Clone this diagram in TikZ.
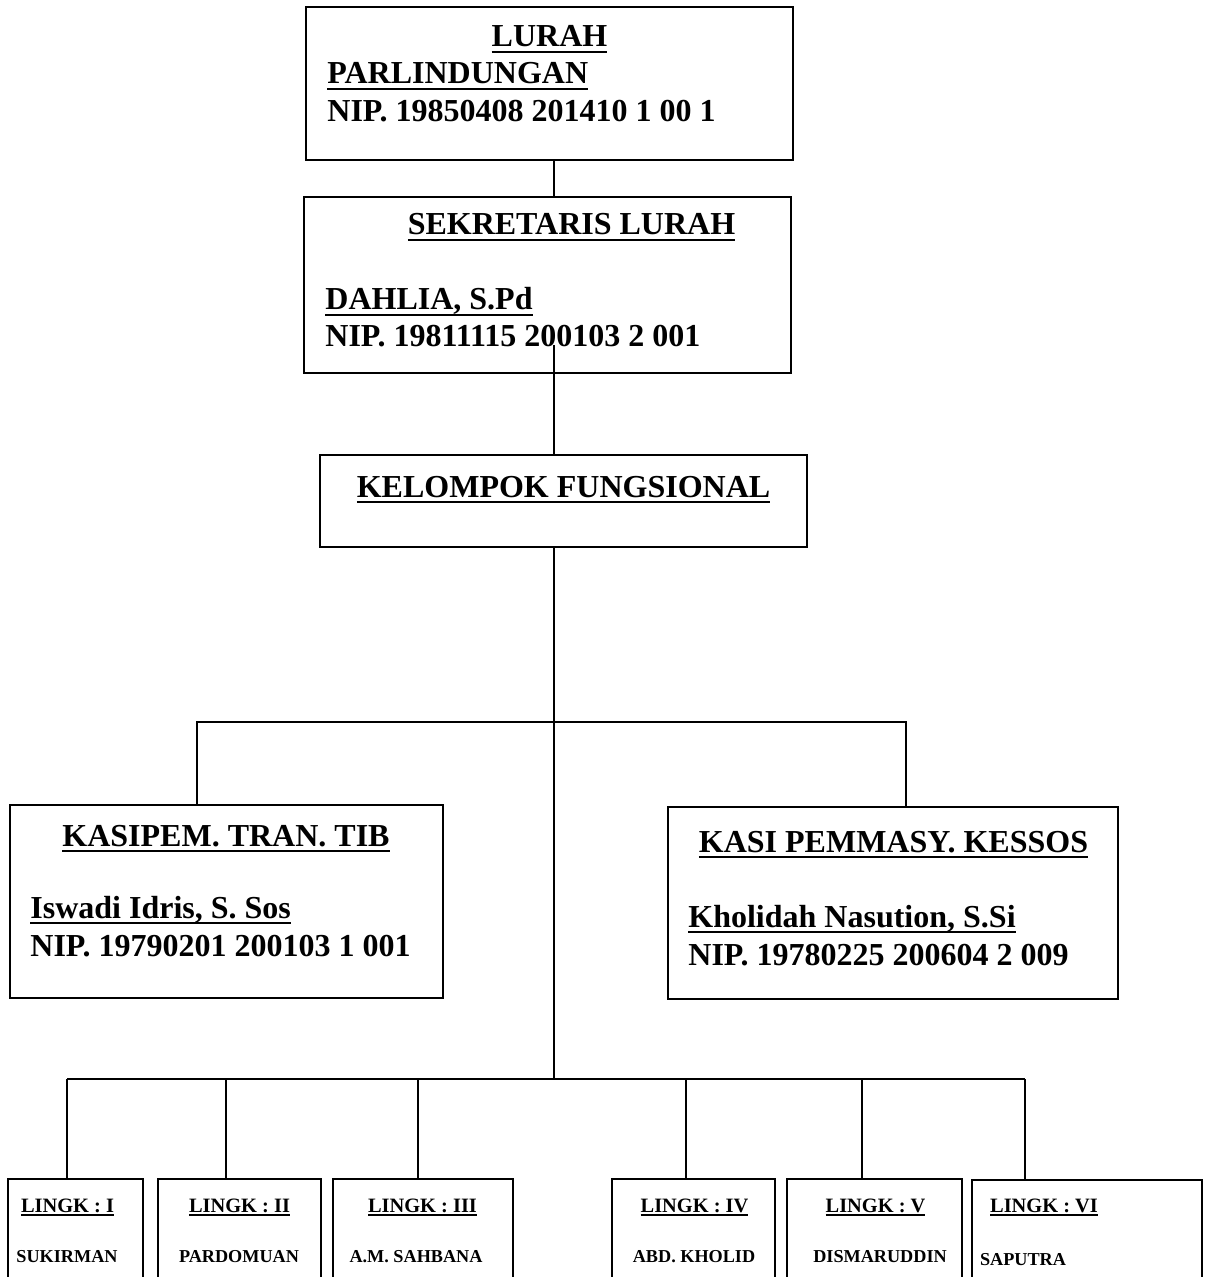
\documentclass[tikz,border=0pt]{standalone}
\usepackage{fontspec}
\setmainfont{Liberation Serif}
\usetikzlibrary{fit}

% underline with a thicker rule
\newcommand{\undl}[1]{\setbox0\hbox{#1}\rlap{\rule[-0.2em]{\wd0}{0.09em}}\box0}

\tikzset{
	box/.style={draw, line width=1pt, inner sep=0pt},
	bigtext/.style={font=\fontsize{16}{19}\selectfont\bfseries, inner sep=0pt},
	headtext/.style={font=\fontsize{10.2}{12}\selectfont\bfseries, inner sep=0pt},
	nametext/.style={font=\fontsize{9.1}{11}\selectfont\bfseries, inner sep=0pt},
	link/.style={line width=1pt}
}

\begin{document}
\begin{tikzpicture}[x=0.5pt,y=-0.5pt]
	\path[use as bounding box, clip] (0,0) rectangle (1210,1277);

	% boxes
	\node[box, fit={(306,7) (793,160)}] (lurah) {};
	\node[box, fit={(304,197) (791,373)}] (sekre) {};
	\node[box, fit={(320,455) (807,547)}] (fungsi) {};
	\node[box, fit={(10,805) (443,998)}] (kasipem) {};
	\node[box, fit={(668,807) (1118,999)}] (kasi) {};
	\node[box, fit={(8,1179) (143,1300)}] (lingk1) {};
	\node[box, fit={(158,1179) (321,1300)}] (lingk2) {};
	\node[box, fit={(333,1179) (513,1300)}] (lingk3) {};
	\node[box, fit={(612,1179) (775,1300)}] (lingk4) {};
	\node[box, fit={(787,1179) (962,1300)}] (lingk5) {};
	\node[box, fit={(972,1180) (1202,1300)}] (lingk6) {};

	% texts
	\node[bigtext, anchor=base] (lurahjab) at (549.5,47) {\undl{LURAH}};
	\node[bigtext, anchor=base west] (lurahnama) at (327,84) {\undl{PARLINDUNGAN}};
	\node[bigtext, anchor=base west] (lurahnip) at (327,122) {NIP. 19850408 201410 1 00 1};

	\node[bigtext, anchor=base] (sekrejab) at (571.5,235) {\undl{SEKRETARIS LURAH}};
	\node[bigtext, anchor=base west] (sekrenama) at (325,310) {\undl{DAHLIA, S.Pd}};
	\node[bigtext, anchor=base west] (sekrenip) at (325,347) {NIP. 19811115 200103 2 001};

	\node[bigtext, anchor=base] (fungsijab) at (563.5,497) {\undl{KELOMPOK FUNGSIONAL}};

	\node[bigtext, anchor=base] (kasipemjab) at (226,846) {\undl{KASIPEM. TRAN. TIB}};
	\node[bigtext, anchor=base west] (kasipemnama) at (30,918) {\undl{Iswadi Idris, S. Sos}};
	\node[bigtext, anchor=base west] (kasipemnip) at (30,956) {NIP. 19790201 200103 1 001};

	\node[bigtext, anchor=base] (kasijab) at (893.5,852) {\undl{KASI PEMMASY. KESSOS}};
	\node[bigtext, anchor=base west] (kasinama) at (688,927) {\undl{Kholidah Nasution, S.Si}};
	\node[bigtext, anchor=base west] (kasinip) at (688,965) {NIP. 19780225 200604 2 009};

	\node[headtext, anchor=base] (lingkjab1) at (67.5,1212) {\undl{LINGK : I}};
	\node[headtext, anchor=base] (lingkjab2) at (239.5,1212) {\undl{LINGK : II}};
	\node[headtext, anchor=base] (lingkjab3) at (422.5,1212) {\undl{LINGK : III}};
	\node[headtext, anchor=base] (lingkjab4) at (694.5,1212) {\undl{LINGK : IV}};
	\node[headtext, anchor=base] (lingkjab5) at (875.5,1212) {\undl{LINGK : V}};
	\node[headtext, anchor=base] (lingkjab6) at (1044,1212) {\undl{LINGK : VI}};

	\node[nametext, anchor=base] (lingknama1) at (67,1262) {SUKIRMAN};
	\node[nametext, anchor=base] (lingknama2) at (239,1262) {PARDOMUAN};
	\node[nametext, anchor=base] (lingknama3) at (416,1262) {A.M. SAHBANA};
	\node[nametext, anchor=base] (lingknama4) at (694,1262) {ABD. KHOLID};
	\node[nametext, anchor=base] (lingknama5) at (880,1262) {DISMARUDDIN};
	\node[nametext, anchor=base] (lingknama6) at (1023,1265) {SAPUTRA};

	% connectors
	\coordinate (spine) at (554,0);
	\coordinate (sekrestart) at (554,345);
	\coordinate (midleft) at (197,722);
	\coordinate (midright) at (906,722);
	\coordinate (lowbus) at (554,1079);
	\coordinate (drop1) at (67,1079);
	\coordinate (drop2) at (226,1079);
	\coordinate (drop3) at (418,1079);
	\coordinate (drop4) at (686,1079);
	\coordinate (drop5) at (862,1079);
	\coordinate (drop6) at (1025,1079);

	\draw[link] (lurah.south -| spine) -- (sekre.north -| spine);
	\draw[link] (sekrestart) -- (fungsi.north -| sekrestart);
	\draw[link] (fungsi.south -| spine) -- (lowbus);
	\draw[link] (kasipem.north -| midleft) -- (midleft) -- (midright) -- (kasi.north -| midright);
	\draw[link] (drop1) -- (drop6);
	\draw[link] (drop1) -- (lingk1.north -| drop1);
	\draw[link] (drop2) -- (lingk2.north -| drop2);
	\draw[link] (drop3) -- (lingk3.north -| drop3);
	\draw[link] (drop4) -- (lingk4.north -| drop4);
	\draw[link] (drop5) -- (lingk5.north -| drop5);
	\draw[link] (drop6) -- (lingk6.north -| drop6);
\end{tikzpicture}
\end{document}
